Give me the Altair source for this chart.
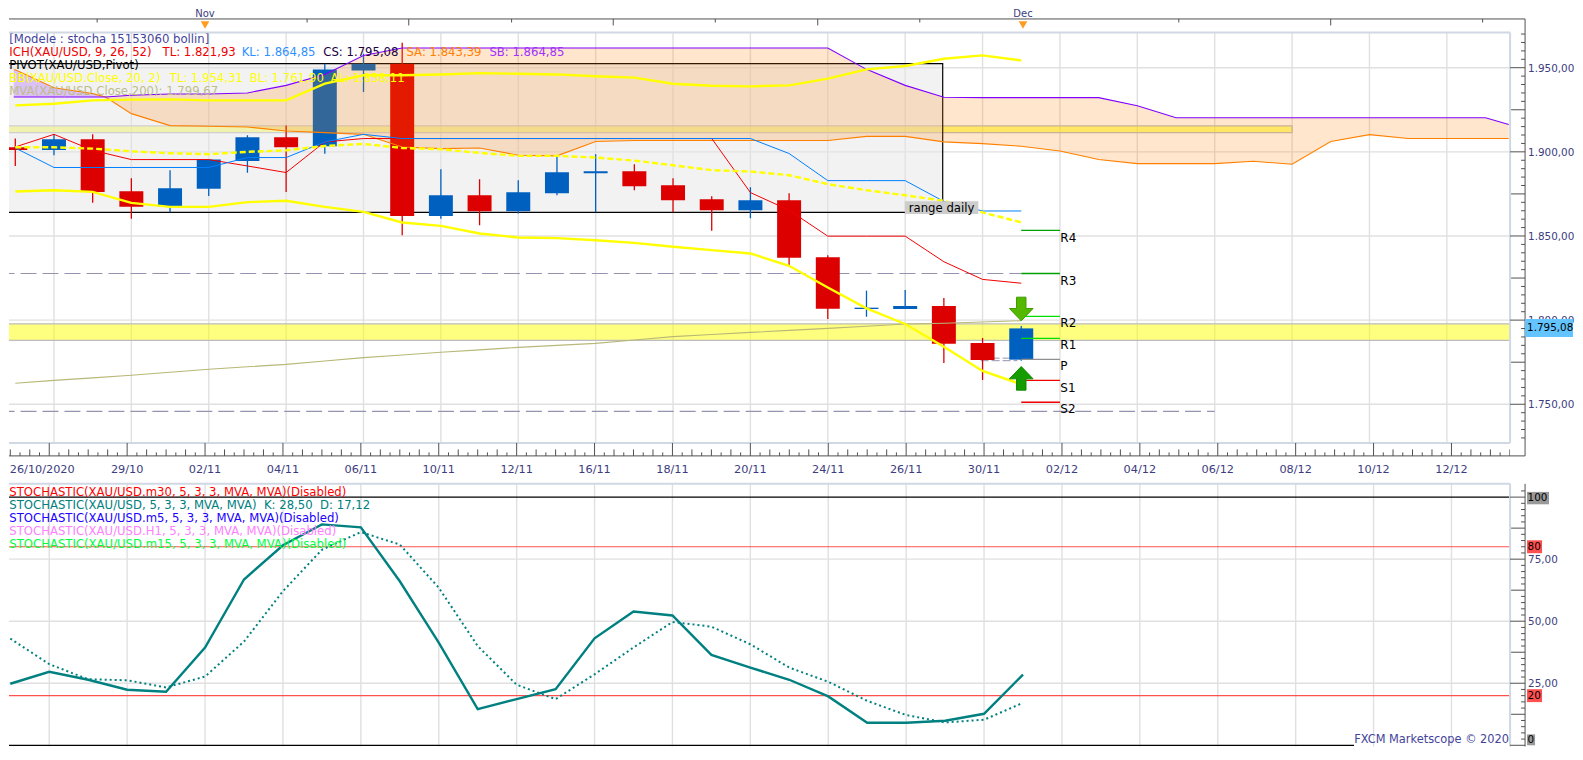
import altair as alt
import pandas as pd

# ---------- values ----------
candle_open = [1902.7,1901.1,1907.5,1876.6,1867.3,1878.0,1894.6,1908.7,1903.3,1948.4,1952.4,1861.8,1874.2,1864.7,1875.4,1887.3,1888.5,1880.2,1871.9,1865.3,1871.3,1837.4,1806.6,1806.6,1808.4,1786.4,1776.5]
candle_high = [1907.9,1910.4,1910.4,1884.3,1889.1,1895.4,1909.8,1915.6,1952.4,1958.3,1964.8,1889.7,1883.7,1883.1,1897.0,1898.6,1892.6,1884.3,1873.6,1879.0,1875.4,1838.6,1817.5,1817.9,1813.1,1789.4,1796.5]
candle_low  = [1891.6,1898.0,1869.7,1860.2,1864.1,1873.8,1887.5,1876.2,1898.8,1935.6,1850.5,1860.2,1856.4,1863.4,1874.2,1864.1,1877.2,1864.1,1853.1,1860.6,1832.7,1800.6,1802.0,1806.6,1774.5,1764.4,1775.9]
candle_close= [1901.1,1907.5,1876.2,1867.3,1878.4,1895.4,1908.7,1902.7,1949.0,1952.4,1861.8,1874.2,1864.7,1876.0,1887.9,1888.5,1879.6,1871.3,1865.3,1871.3,1837.0,1806.8,1807.4,1808.4,1786.0,1776.3,1795.08]

tenkan = [1902.9,1910.4,1900.9,1895.4,1895.4,1895.4,1891.6,1887.7,1905.9,1907.9,1907.9,1907.9,1907.9,1907.9,1907.9,1907.9,1907.9,1907.9,1907.9,1875.8,1865.3,1849.9,1849.9,1849.9,1834.7,1824.2,1821.93]
kijun  = [1902.3,1890.7,1890.7,1890.7,1890.7,1890.7,1896.6,1896.6,1905.9,1910.4,1907.9,1907.9,1907.9,1907.9,1907.9,1907.9,1907.9,1907.9,1907.9,1907.9,1899.0,1882.9,1882.9,1882.9,1870.5,1864.85,1864.85]
bb_top = [1927.6,1928.6,1930.6,1931.0,1931.2,1930.6,1930.6,1930.6,1940.5,1945.5,1945.5,1946.0,1946.8,1946.4,1946.0,1944.9,1944.1,1940.5,1939.3,1938.9,1939.5,1943.5,1949.0,1951.0,1955.3,1957.3,1954.31]
bb_mid = [1902.7,1902.7,1901.9,1900.3,1899.2,1898.6,1900.0,1900.9,1903.5,1904.7,1902.3,1901.5,1899.4,1897.6,1897.6,1896.6,1894.8,1892.0,1889.1,1888.3,1886.1,1880.8,1877.2,1874.2,1870.9,1864.0,1858.11]
bb_low = [1876.4,1877.2,1876.2,1869.7,1867.3,1867.3,1870.1,1870.9,1867.3,1864.3,1858.0,1856.0,1851.5,1849.1,1848.7,1847.5,1845.9,1843.6,1841.6,1839.6,1832.3,1819.4,1807.0,1797.7,1784.2,1769.8,1761.90]
mva200 = [1762.5,1764.2,1765.7,1767.2,1769.0,1770.8,1772.3,1773.7,1775.7,1777.7,1779.3,1780.9,1782.3,1783.8,1785.0,1786.2,1788.2,1790.2,1791.5,1792.7,1793.9,1795.1,1796.4,1797.7,1798.1,1798.9,1799.67]

cloud_idx = [-0.04,0,1,2,2.33,3,4,5,6,7,8,9,10,11,12,13,14,15,16,17,18,19,20,21,22,23,24,25,26,27,28,29,30,31,32,33,34,35,36,37,38,38.6]
senkou_a = [1948.8,1948.8,1938.1,1934.6,1932.6,1922.7,1915.6,1915.2,1914.8,1912.4,1911.4,1910.4,1902.9,1901.9,1902.3,1898.0,1897.6,1906.1,1906.7,1906.7,1906.7,1906.7,1906.7,1906.7,1909.2,1909.2,1905.9,1904.9,1903.3,1900.5,1895.4,1893.0,1893.0,1893.0,1894.4,1892.6,1906.1,1910.2,1907.9,1907.9,1907.9,1907.9]
senkou_b = [1932.6,1932.6,1932.6,1932.6,1932.6,1933.6,1934.4,1934.4,1935.0,1939.5,1946.0,1957.3,1961.7,1961.7,1961.7,1961.7,1961.7,1961.7,1961.7,1961.7,1961.7,1961.7,1961.7,1961.7,1949.0,1939.5,1932.4,1932.2,1932.2,1932.2,1932.2,1927.4,1920.3,1920.3,1920.3,1920.3,1920.3,1920.3,1920.3,1920.3,1920.3,1916.2]

stoch_k = [24.8,29.6,26.4,22.4,21.6,39.4,66.8,80.6,89.0,87.8,66.1,41.4,14.6,18.6,22.6,43.1,53.9,52.3,36.4,31.3,26.4,19.7,9.1,9.1,9.9,12.7,28.50]
stoch_d = [43.0,32.7,26.6,26.2,23.3,27.7,41.8,62.1,78.8,85.9,80.9,63.5,40.0,24.4,18.6,28.6,39.4,49.7,47.8,40.7,31.3,25.6,17.9,12.2,9.2,10.3,17.12]

pivot_names  = ["R4","R3","R2","R1","P","S1","S2"]
pivot_levels = [1853.3,1827.7,1802.2,1789.2,1776.7,1764.2,1751.2]
pivot_label_y= [1848.5,1823.0,1798.1,1785.0,1772.9,1759.7,1747.0]
pivot_colors = ["#00a000","#00a000","#00e000","#00e000","#909090","#f00000","#f00000"]

date_labels = ["26/10/2020","29/10","02/11","04/11","06/11","10/11","12/11","16/11","18/11","20/11","24/11","26/11","30/11","02/12","04/12","06/12","08/12","10/12","12/12"]
date_label_idx = [0.82,3,5,7,9,11,13,15,17,19,21,23,25,27,29,31,33,35,37]
grid_idx = list(range(1,38,2))
ruler_short = [2.23,7.62,12.87,18.1,23.35,30,37.8]
ruler_long = [10.23,15.48,20.73,33.9]
months = ["Nov","Dec"]
month_idx = [5,26]
price_ticks = [1750,1800,1850,1900,1950]
price_labels = ["1.750,00","1.800,00","1.850,00","1.900,00","1.950,00"]
stoch_ticks = [25,50,75]
stoch_labels = ["25,00","50,00","75,00"]

NB = "\u00a0"
legend_top = [
    ("[Modele : stocha 15153060 bollin]","#44449a",8.3,39),
    ("ICH(XAU/USD, 9, 26, 52)","#f00000",8.3,52),
    ("TL: 1.821,93","#f00000",161.7,52),
    ("KL: 1.864,85","#3090ff",241,52),
    ("CS: 1.795,08","#200040",322.7,52),
    ("SA: 1.843,39","#ff8000",406,52),
    ("SB: 1.864,85","#a030ff",489,52),
    ("PIVOT(XAU/USD,Pivot)","#000000",8.3,65),
    ("BB(XAU/USD.Close, 20, 2)","#ffff00",8.3,78),
    ("TL: 1.954,31","#ffff00",169,78),
    ("BL: 1.761,90","#ffff00",249,78),
    ("AL: 1.858,11","#ffff00",330,78),
    ("MVA(XAU/USD.Close,200): 1.799,67","#bdbd8a",8.3,91),
]
legend_low = [
    ("STOCHASTIC(XAU/USD.m30, 5, 3, 3, MVA, MVA)(Disabled)","#ff0000",8.3,492),
    ("STOCHASTIC(XAU/USD, 5, 3, 3, MVA, MVA)" + NB + NB + "K: 28,50" + NB + NB + "D: 17,12","#008080",8.3,505),
    ("STOCHASTIC(XAU/USD.m5, 5, 3, 3, MVA, MVA)(Disabled)","#2000ff",8.3,518),
    ("STOCHASTIC(XAU/USD.H1, 5, 3, 3, MVA, MVA)(Disabled)","#ff80ff",8.3,531),
    ("STOCHASTIC(XAU/USD.m15, 5, 3, 3, MVA, MVA)(Disabled)","#00ff40",8.3,544),
]

# ---------- layout constants ----------
W = 1503
AXIS_X = 1518
X0, X1 = -0.0333, -0.0333 + W / 39
FONT = "DejaVu Sans"
NAVY = "#3c3c80"
TICK = "#505050"
BORDER = "#d0d8e4"
GRID = "#e0e0e0"
FS = 11.7

xs = alt.Scale(domain=[X0, X1], nice=False, zero=False)
ys = alt.Scale(domain=[1727.03, 1970.95], nice=False, zero=False)
ss = alt.Scale(domain=[-0.5, 105.34], nice=False, zero=False)
rs = alt.Scale(domain=[24, 0], nice=False, zero=False)
ds = alt.Scale(domain=[41, 0], nice=False, zero=False)

bars = list(range(27))
candles = pd.DataFrame({"i": bars, "o": candle_open, "h": candle_high, "l": candle_low, "c": candle_close})
candles["col"] = ["#0060c0" if c >= o else "#dd0000" for o, c in zip(candle_open, candle_close)]
cloud = pd.DataFrame({"i": cloud_idx, "a": senkou_a, "b": senkou_b})


def X(f="i", sc=xs):
    return alt.X(f + ":Q", scale=sc, axis=None, title=None)


def line(xv, yv, color, width=1.0, dash=None, scale=ys):
    d = pd.DataFrame({"i": xv, "v": yv})
    kw = {"strokeDash": dash} if dash else {}
    return alt.Chart(d).mark_line(color=color, strokeWidth=width, clip=True, **kw).encode(
        x=X(), y=alt.Y("v:Q", scale=scale, axis=None, title=None))


def hrule(level, x_from, x_to, color, width=1.0, dash=None, scale=ys):
    d = pd.DataFrame({"a": x_from, "b": x_to, "v": level})
    kw = {"strokeDash": dash} if dash else {}
    return alt.Chart(d).mark_rule(color=color, strokeWidth=width, clip=True, **kw).encode(
        x=X("a"), x2="b:Q", y=alt.Y("v:Q", scale=scale, axis=None, title=None))


def px_text(txt, color, x, y, size=FS, align="left", weight="normal"):
    return alt.Chart(pd.DataFrame({"t": [txt]})).mark_text(
        align=align, baseline="middle", color=color, font=FONT, fontSize=size, fontWeight=weight
    ).encode(x=alt.value(x), y=alt.value(y), text="t:N")


def rtick(vals, x_from, scale):
    return alt.Chart(pd.DataFrame({"v": vals})).mark_rule(color=TICK, strokeWidth=1).encode(
        y=alt.Y("v:Q", scale=scale, axis=None, title=None), x=alt.value(x_from), x2=alt.value(AXIS_X))


def frame(height, top=True, bottom=True):
    parts = [alt.Chart(pd.DataFrame({"a": [0]})).mark_rule(color=BORDER, strokeWidth=2).encode(
        x=alt.value(W), y=alt.value(0), y2=alt.value(height))]
    if top:
        parts.append(alt.Chart(pd.DataFrame({"a": [0]})).mark_rule(color=BORDER, strokeWidth=2).encode(
            y=alt.value(0), x=alt.value(0), x2=alt.value(W)))
    if bottom:
        parts.append(alt.Chart(pd.DataFrame({"a": [0]})).mark_rule(color=BORDER, strokeWidth=2).encode(
            y=alt.value(height), x=alt.value(0), x2=alt.value(W)))
    parts.append(alt.Chart(pd.DataFrame({"a": [0]})).mark_rule(color=TICK, strokeWidth=1).encode(
        x=alt.value(AXIS_X), y=alt.value(0), y2=alt.value(height)))
    return parts


def grid_layers(vals, scale, height):
    return [
        alt.Chart(pd.DataFrame({"i": grid_idx})).mark_rule(color=GRID, strokeWidth=1.4).encode(
            x=X(), y=alt.value(0), y2=alt.value(height)),
        alt.Chart(pd.DataFrame({"v": vals})).mark_rule(color=GRID, strokeWidth=1.4).encode(
            y=alt.Y("v:Q", scale=scale, axis=None, title=None), x=alt.value(0), x2=alt.value(W)),
    ]


def value_labels(vals, labels, scale):
    return alt.Chart(pd.DataFrame({"v": vals, "t": labels})).mark_text(
        align="left", baseline="middle", color=NAVY, font=FONT, fontSize=10.4, dy=1).encode(
        x=alt.value(AXIS_X + 3), y=alt.Y("v:Q", scale=scale, axis=None, title=None), text="t:N")


# ---------- ruler above the price panel ----------
ruler_layers = [
    alt.Chart(pd.DataFrame({"a": [X0], "b": [X1], "y": [10.5]})).mark_rule(color=TICK, strokeWidth=1).encode(
        y=alt.Y("y:Q", scale=rs, axis=None, title=None), x=alt.value(0), x2=alt.value(AXIS_X)),
    alt.Chart(pd.DataFrame({"i": ruler_short, "y": [10.5] * len(ruler_short), "y2": [14] * len(ruler_short)}))
    .mark_rule(color=TICK).encode(x=X(), y=alt.Y("y:Q", scale=rs, axis=None, title=None), y2="y2:Q"),
    alt.Chart(pd.DataFrame({"i": ruler_long, "y": [10.5] * len(ruler_long), "y2": [17] * len(ruler_long)}))
    .mark_rule(color=TICK).encode(x=X(), y=alt.Y("y:Q", scale=rs, axis=None, title=None), y2="y2:Q"),
    alt.Chart(pd.DataFrame({"i": month_idx, "y": [16.5, 16.5]})).mark_point(
        shape="triangle-down", filled=True, color="#ff9c20", size=75, opacity=1).encode(
        x=X(), y=alt.Y("y:Q", scale=rs, axis=None, title=None)),
    alt.Chart(pd.DataFrame({"i": month_idx, "t": months, "y": [5.6, 5.6]})).mark_text(
        color=NAVY, font=FONT, fontSize=10, baseline="middle").encode(
        x=X(), y=alt.Y("y:Q", scale=rs, axis=None, title=None), text="t:N"),
    alt.Chart(pd.DataFrame({"a": [0]})).mark_rule(color=TICK).encode(
        x=alt.value(AXIS_X), y=alt.value(10.5), y2=alt.value(24)),
]
ruler = alt.layer(*ruler_layers).properties(width=W, height=24)

# ---------- price panel ----------
H = 411
band = pd.DataFrame({"a": [-1, -1], "b": [33, 39.5], "lo": [1911.4, 1788.0], "hi": [1915.4, 1797.8]})
box = pd.DataFrame({"a": [-1], "b": [23.97], "lo": [1864.0], "hi": [1952.4]})

rect_y = alt.Y("lo:Q", scale=ys, axis=None, title=None)
layers = grid_layers(price_ticks, ys, H) + [
    alt.Chart(band).mark_rect(fill="#ffff00", fillOpacity=0.5, stroke="#bdbdbd", strokeWidth=1.2, clip=True).encode(
        x=X("a"), x2="b:Q", y=rect_y, y2="hi:Q"),
    alt.Chart(box).mark_rect(fill="#e4e4e4", fillOpacity=0.48, stroke="#000000", strokeWidth=1.2, clip=True).encode(
        x=X("a"), x2="b:Q", y=rect_y, y2="hi:Q"),
    hrule([1827.7], [-1], [26], "#9494b0", 1.1, [16, 6]),
    hrule([1745.8], [-1], [31], "#9494b0", 1.1, [16, 6]),
    hrule([1777.4, 1775.9], [24.95, 24.95], [25.9, 25.9], "#9494b0", 1.0, [8, 3]),
    alt.Chart(candles).mark_rule(strokeWidth=1.3, clip=True).encode(
        x=X(), y=alt.Y("l:Q", scale=ys, axis=None, title=None), y2="h:Q", color=alt.Color("col:N", scale=None)),
    alt.Chart(candles).mark_bar(size=24, clip=True).encode(
        x=X(), y=alt.Y("o:Q", scale=ys, axis=None, title=None), y2="c:Q", color=alt.Color("col:N", scale=None)),
    alt.Chart(cloud[cloud.i >= 2.33]).mark_area(color="#ff8000", opacity=0.2, clip=True).encode(
        x=X(), y=alt.Y("a:Q", scale=ys, axis=None, title=None), y2="b:Q"),
    alt.Chart(cloud[cloud.i <= 2.33]).mark_area(color="#8000ff", opacity=0.2, clip=True).encode(
        x=X(), y=alt.Y("a:Q", scale=ys, axis=None, title=None), y2="b:Q"),
    line(cloud_idx, senkou_a, "#ff8000", 1.1),
    line(cloud_idx, senkou_b, "#8000ff", 1.1),
    line(bars, mva200, "#b8b878", 1.1),
    line(bars, tenkan, "#f00000", 1.0),
    line(bars, kijun, "#0080ff", 1.0),
    line(bars, bb_top, "#ffff00", 2.4),
    line(bars, bb_mid, "#ffff00", 2.4, [6, 3]),
    line(bars, bb_low, "#ffff00", 2.4),
]
pivot_df = pd.DataFrame({"a": [26] * 7, "b": [27] * 7, "v": pivot_levels, "c": pivot_colors, "yl": pivot_label_y, "t": pivot_names, "x": [27.01] * 7})
layers += [
    alt.Chart(pivot_df).mark_rule(strokeWidth=1.3).encode(
        x=X("a"), x2="b:Q", y=alt.Y("v:Q", scale=ys, axis=None, title=None), color=alt.Color("c:N", scale=None)),
    alt.Chart(pivot_df).mark_text(align="left", baseline="middle", font=FONT, fontSize=12, color="#000000").encode(
        x=X("x"), y=alt.Y("yl:Q", scale=ys, axis=None, title=None), text="t:N"),
    alt.Chart(pd.DataFrame({"i": [26], "v": [1806.6]})).mark_point(
        shape="M-0.2,-0.5L0.2,-0.5L0.2,-0.02L0.5,-0.02L0,0.5L-0.5,-0.02L-0.2,-0.02Z",
        filled=True, size=2240, color="#55b800", opacity=1, stroke="#3f9a00", strokeWidth=1).encode(
        x=X(), y=alt.Y("v:Q", scale=ys, axis=None, title=None)),
    alt.Chart(pd.DataFrame({"i": [26], "v": [1765.4]})).mark_point(
        shape="M-0.2,0.5L0.2,0.5L0.2,0.02L0.5,0.02L0,-0.5L-0.5,0.02L-0.2,0.02Z",
        filled=True, size=2240, color="#149c00", opacity=1, stroke="#0f8a00", strokeWidth=1).encode(
        x=X(), y=alt.Y("v:Q", scale=ys, axis=None, title=None)),
    alt.Chart(pd.DataFrame({"a": [22.99], "b": [24.89], "lo": [1863.0], "hi": [1870.7]})).mark_rect(fill="#cdcdcd").encode(
        x=X("a"), x2="b:Q", y=rect_y, y2="hi:Q"),
    alt.Chart(pd.DataFrame({"i": [23.94], "v": [1866.9], "t": ["range daily"]})).mark_text(
        font=FONT, fontSize=FS, color="#000000", baseline="middle").encode(
        x=X(), y=alt.Y("v:Q", scale=ys, axis=None, title=None), text="t:N"),
]
layers += [px_text(t, c, x - 8, y - 32) for t, c, x, y in legend_top]
layers += frame(H)
layers += [
    rtick(price_ticks, W, ys),
    rtick([1775, 1825, 1875, 1925], W + 1, ys),
    rtick([v for v in range(1730, 1971, 5) if v % 25 != 0], AXIS_X - 4, ys),
    value_labels(price_ticks, price_labels, ys),
    alt.Chart(pd.DataFrame({"a": [0], "lo": [1789.9], "hi": [1800.6]})).mark_rect(fill="#64c4ff").encode(
        x=alt.value(AXIS_X), x2=alt.value(AXIS_X + 48), y=rect_y, y2="hi:Q"),
    alt.Chart(pd.DataFrame({"v": [1795.08], "t": ["1.795,08"]})).mark_text(
        align="left", baseline="middle", font=FONT, fontSize=10.4, color="#000000").encode(
        x=alt.value(AXIS_X + 2), y=alt.Y("v:Q", scale=ys, axis=None, title=None), text="t:N"),
]
price = alt.layer(*layers).properties(width=W, height=H)

# ---------- date strip ----------
minor = [k / 4 for k in range(0, 155)]
dmin = pd.DataFrame({"i": [m for m in minor if m % 0.5 != 0], "y": 9.5, "y2": 13})
dmid = pd.DataFrame({"i": [m for m in minor if m % 0.5 == 0 and m not in grid_idx], "y": 6.5, "y2": 13})
dmaj = pd.DataFrame({"i": grid_idx, "y": 0, "y2": 13})
dy = alt.Y("y:Q", scale=ds, axis=None, title=None)
date_layers = [
    alt.Chart(pd.DataFrame({"a": [0]})).mark_rule(color=TICK).encode(
        y=alt.value(13), x=alt.value(0), x2=alt.value(AXIS_X)),
    alt.Chart(dmin).mark_rule(color=TICK, clip=True).encode(x=X(), y=dy, y2="y2:Q"),
    alt.Chart(dmid).mark_rule(color=TICK, clip=True).encode(x=X(), y=dy, y2="y2:Q"),
    alt.Chart(dmaj).mark_rule(color=TICK, clip=True).encode(x=X(), y=dy, y2="y2:Q"),
    alt.Chart(pd.DataFrame({"i": date_label_idx, "t": date_labels, "y": [27] * len(date_labels)})).mark_text(
        color=NAVY, font=FONT, fontSize=11.3, baseline="middle").encode(x=X(), y=dy, text="t:N"),
    alt.Chart(pd.DataFrame({"a": [0]})).mark_rule(color=TICK).encode(
        x=alt.value(AXIS_X), y=alt.value(0), y2=alt.value(13)),
]
dates = alt.layer(*date_layers).properties(width=W, height=41)

# ---------- stochastic panel (ends just under the zero line so the page fits the window) ----------
SH = 263
sy = lambda f: alt.Y(f + ":Q", scale=ss, axis=None, title=None)
slayers = grid_layers(stoch_ticks, ss, SH) + [
    hrule([80, 20], [-1, -1], [39.5, 39.5], "#ff5050", 1.2, None, ss),
    hrule([100], [-1], [39.5], "#000000", 1.2, None, ss),
    hrule([0], [-1], [34.5], "#000000", 1.2, None, ss),
    line(bars, stoch_d, "#008080", 2.0, [2, 3], ss),
    line(bars, stoch_k, "#008080", 2.4, None, ss),
]
slayers += [px_text(t, c, x - 8, y - 484) for t, c, x, y in legend_low]
slayers += [px_text("FXCM Marketscope \u00a9 2020", "#44449a", W - 1, 256, size=11.4, align="right")]
slayers += frame(SH, top=True, bottom=False)
slayers += [
    rtick(stoch_ticks + [0, 100], W, ss),
    rtick([12.5, 37.5, 62.5, 87.5], W + 1, ss),
    rtick([k * 2.5 for k in range(0, 42) if k % 5 != 0], AXIS_X - 4, ss),
    value_labels(stoch_ticks, stoch_labels, ss),
]
badges = pd.DataFrame({"lo": [97.1, 77.4, 17.4, 0.0], "hi": [102.1, 82.6, 22.6, 4.4],
                       "t": ["100", "80", "20", "0"], "v": [99.8, 80, 20, 2.2], "c": ["#999999", "#ff5050", "#ff5050", "#999999"]})
for _, b in badges.iterrows():
    width = {"100": 22, "80": 15, "20": 15, "0": 8}[b.t]
    d = pd.DataFrame([b])
    slayers += [
        alt.Chart(d).mark_rect(fill=b.c).encode(x=alt.value(AXIS_X + 2), x2=alt.value(AXIS_X + 2 + width), y=sy("lo"), y2="hi:Q"),
        alt.Chart(d).mark_text(align="left", baseline="middle", font=FONT, fontSize=10.4, color="#000000").encode(
            x=alt.value(AXIS_X + 2.5), y=sy("v"), text="t:N"),
    ]
stoch = alt.layer(*slayers).properties(width=W, height=SH)

chart = alt.vconcat(ruler, price, dates, stoch, spacing=0, bounds="flush").properties(
    padding=0, background="#ffffff"
).configure_view(stroke=None)

chart.save("out.html", embed_options={"renderer": "svg", "actions": False})
